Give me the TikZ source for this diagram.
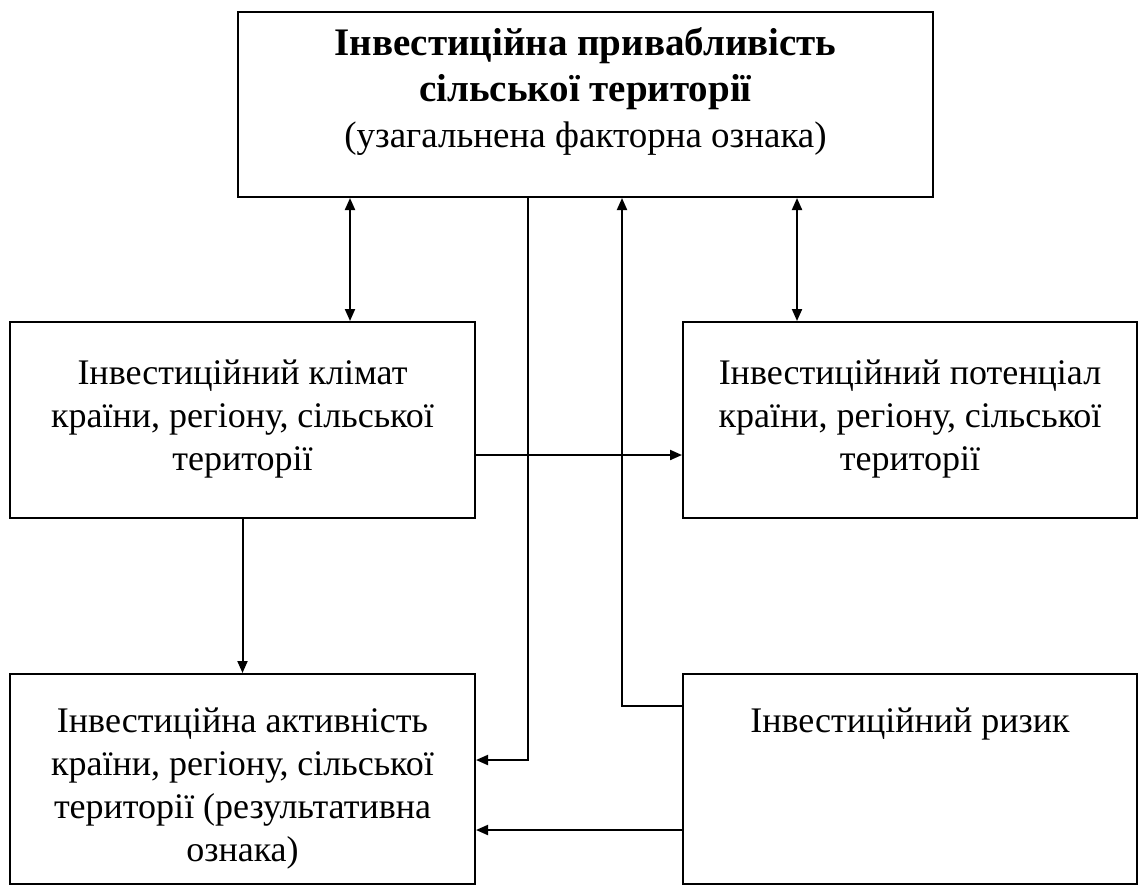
\documentclass[tikz,border=0pt]{standalone}
\usepackage{fontspec}
\setmainfont{Liberation Serif}
\usetikzlibrary{arrows}
\usetikzlibrary{arrows.meta}

\begin{document}
\begin{tikzpicture}[x=0.5pt,y=-0.5pt,
  box/.style={draw,line width=1pt,inner sep=0pt},
  txt/.style={font=\fontsize{18}{21.5}\selectfont,align=center,anchor=north},
  arr/.style={-{Triangle[length=6pt,width=5pt]},line width=1pt},
  dbl/.style={{Triangle[length=6pt,width=5pt]}-{Triangle[length=6pt,width=5pt]},line width=1pt}]

\useasboundingbox (0,0) rectangle (1143,894);

% boxes
\node[box,minimum width=347.5pt,minimum height=92.5pt] (attr) at (585.5,104.5) {};
\node[box,minimum width=232.5pt,minimum height=98pt] (clim) at (242.5,420) {};
\node[box,minimum width=227pt,minimum height=98pt] (pot) at (910,420) {};
\node[box,minimum width=232.5pt,minimum height=105pt] (act) at (242.5,779) {};
\node[box,minimum width=227pt,minimum height=105pt] (risk) at (910,779) {};

% texts
\node[txt,font=\fontsize{19.5}{23}\selectfont] (attr-t) at ([yshift=-5pt]attr.north) {\textbf{Інвестиційна привабливість}\\\textbf{сільської території}\\{\fontsize{18.5}{23}\selectfont(узагальнена факторна ознака)}};
\node[txt] (clim-t) at ([yshift=-16pt]clim.north) {Інвестиційний клімат\\країни, регіону, сільської\\території};
\node[txt] (pot-t) at ([yshift=-16pt]pot.north) {Інвестиційний потенціал\\країни, регіону, сільської\\території};
\node[txt] (act-t) at ([yshift=-14pt]act.north) {Інвестиційна активність\\країни, регіону, сільської\\території (результативна\\ознака)};
\node[txt] (risk-t) at ([yshift=-14pt]risk.north) {Інвестиційний ризик};

% connector columns and rows
\coordinate (c1) at (350,0);
\coordinate (c4) at (797,0);
\coordinate (j1) at (528,760);
\coordinate (j2) at (622,706);
\coordinate (j3) at (0,455);
\coordinate (j5) at (0,830);

\draw[dbl] (attr.south -| c1) -- (clim.north -| c1);
\draw[dbl] (attr.south -| c4) -- (pot.north -| c4);
\draw[arr] (attr.south -| j1) |- (act.east |- j1);
\draw[arr] (risk.west |- j2) -| (attr.south -| j2);
\draw[arr] (clim.east |- j3) -- (pot.west |- j3);
\draw[arr] (clim.south) -- (act.north);
\draw[arr] (risk.west |- j5) -- (act.east |- j5);

\end{tikzpicture}
\end{document}
